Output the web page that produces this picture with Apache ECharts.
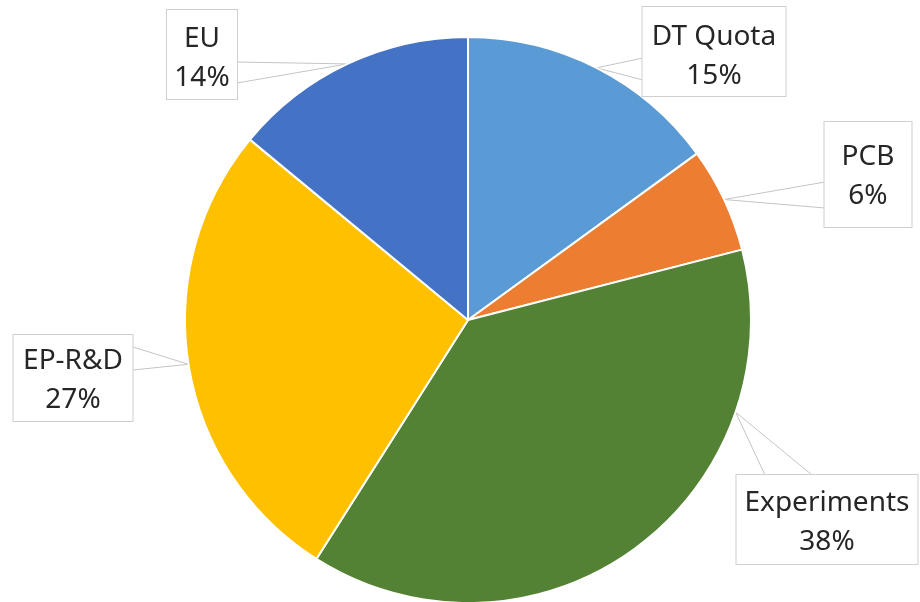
<!DOCTYPE html>
<html>
<head>
<meta charset="utf-8">
<script src="https://cdn.jsdelivr.net/npm/echarts@6/dist/echarts.min.js"></script>
<style>
  html, body { margin: 0; padding: 0; background: #fff; }
  #main { width: 920px; height: 602px; }
</style>
</head>
<body>
<div id="main"></div>
<script>
// slices, clockwise from 12 o'clock
var categories = ['DT Quota', 'PCB', 'Experiments', 'EP-R&D', 'EU'];
var shares = [15, 6, 38, 27, 14];
var colors = ['#5B9BD5', '#ED7D31', '#548235', '#FFC000', '#4472C4'];

var pieCenter = [468, 320];
var pieRadius = 283;

// callout boxes: center x, top y, size, padding above the first line,
// and the two points where the callout wedge meets the box
// (tipAngle = where the pointer touches the rim, degrees clockwise from top; default slice middle)
var boxes = [
  { x: 714, y: 7, w: 143, h: 89, top: 10.5, a: [643, 58], b: [643, 80] },
  { x: 868, y: 122, w: 87, h: 105, top: 15.5, a: [825, 182], b: [825, 208] },
  { x: 827, y: 475, w: 181, h: 89, top: 8.5, a: [765, 475], b: [812, 475], tipAngle: 109 },
  { x: 73, y: 335, w: 119, h: 86, top: 7, a: [133, 347], b: [133, 370] },
  { x: 202, y: 10, w: 70, h: 89, top: 10, a: [237, 62], b: [237, 83] }
];

var chart = echarts.init(document.getElementById('main'));

var pieData = categories.map(function (name, i) {
  var b = boxes[i];
  return {
    name: name,
    value: shares[i],
    itemStyle: { color: colors[i] },
    label: { width: b.w, height: b.h - b.top, padding: [b.top, 0, 0, 0] }
  };
});

chart.setOption({
  animation: false,
  series: [{
    type: 'pie',
    center: pieCenter,
    radius: pieRadius,
    startAngle: 90,
    clockwise: true,
    avoidLabelOverlap: false,
    itemStyle: { borderColor: '#fff', borderWidth: 2 },
    label: {
      show: true,
      position: 'outside',
      formatter: '{b}\n{c}%',
      fontFamily: 'Noto Sans',
      fontSize: 28,
      lineHeight: 39,
      color: '#262626',
      align: 'center',
      backgroundColor: '#fff',
      borderColor: '#cfcfcf',
      borderWidth: 1
    },
    labelLine: {
      show: true,
      length: 20,
      length2: 20,
      lineStyle: { color: '#c4c4c4', width: 1 }
    },
    labelLayout: function (params) {
      var b = boxes[params.dataIndex];
      var tip;
      if (b.tipAngle != null) {
        var r = b.tipAngle * Math.PI / 180;
        tip = [pieCenter[0] + pieRadius * Math.sin(r), pieCenter[1] - pieRadius * Math.cos(r)];
      } else if (params.labelLinePoints) {
        tip = params.labelLinePoints[0];
      }
      var out = { x: b.x, y: b.y, align: 'center', verticalAlign: 'top' };
      if (tip) out.labelLinePoints = [b.a, tip, b.b];
      return out;
    },
    emphasis: { disabled: true },
    data: pieData
  }]
});
</script>
</body>
</html>
